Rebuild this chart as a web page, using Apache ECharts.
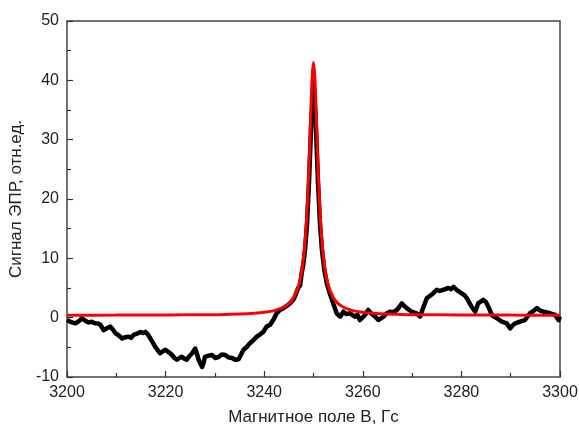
<!DOCTYPE html>
<html>
<head>
<meta charset="utf-8">
<script src="https://cdn.jsdelivr.net/npm/echarts@6/dist/echarts.min.js"></script>
<style>html,body{margin:0;padding:0;background:#fff}#c{width:579px;height:427px}</style>
</head>
<body>
<div id="c"></div>
<script>
var xTicks = [3200, 3220, 3240, 3260, 3280, 3300];
var yTicks = [-10, 0, 10, 20, 30, 40, 50];

var blackField = [3200.0,3200.7,3201.7,3202.4,3203.0,3203.7,3204.4,3205.0,3205.7,3206.3,3206.8,3207.4,3208.1,3208.8,3209.3,3209.8,3210.5,3211.2,3211.9,3212.5,3213.0,3213.5,3214.2,3214.9,3215.4,3215.9,3216.4,3216.9,3217.4,3217.9,3218.4,3218.9,3219.4,3219.9,3220.6,3221.3,3221.8,3222.3,3222.8,3223.3,3223.8,3224.3,3224.8,3225.4,3226.0,3226.4,3226.7,3227.1,3227.4,3227.7,3228.0,3228.7,3229.4,3230.1,3230.8,3231.4,3232.1,3232.8,3233.5,3234.1,3234.8,3235.3,3235.8,3236.5,3237.1,3237.8,3238.5,3239.2,3239.8,3240.5,3241.2,3241.9,3242.5,3243.2,3243.9,3244.6,3245.2,3245.9,3246.2,3246.9,3247.3,3247.6,3247.9,3248.3,3248.7,3249.1,3249.5,3249.8,3250.0,3250.2,3250.5,3250.9,3251.3,3251.7,3252.2,3252.7,3253.3,3254.0,3254.7,3255.4,3256.05,3256.7,3257.4,3258.4,3258.9,3259.4,3260.45,3261.1,3261.6,3262.1,3262.6,3263.15,3264.2,3264.8,3265.5,3266.2,3266.9,3267.4,3267.9,3268.4,3268.9,3269.9,3270.9,3271.6,3272.3,3273.0,3274.0,3275.0,3275.6,3276.3,3277.35,3277.9,3278.4,3279.0,3280.05,3280.6,3281.1,3282.1,3282.8,3283.4,3284.45,3285.0,3285.5,3286.15,3287.2,3288.2,3289.2,3289.9,3290.4,3290.9,3291.9,3292.9,3293.9,3294.6,3295.3,3296.0,3296.6,3297.3,3298.0,3299.0,3299.7,3300.0];
var blackSignal = [-0.4,-0.7,-0.95,-0.6,-0.1,-0.5,-0.8,-0.7,-0.95,-1.0,-1.2,-2.1,-1.8,-1.5,-2.0,-2.6,-3.0,-3.5,-3.3,-3.2,-3.4,-2.9,-2.7,-2.4,-2.6,-2.4,-2.8,-3.5,-4.2,-4.9,-5.5,-6.0,-5.7,-5.4,-5.8,-6.3,-6.8,-7.1,-6.8,-6.6,-6.9,-7.1,-6.5,-6.0,-5.2,-6.2,-7.1,-7.8,-8.3,-7.6,-6.6,-6.4,-6.3,-6.8,-6.6,-6.2,-6.3,-6.7,-6.8,-7.1,-7.0,-6.2,-5.4,-4.9,-4.3,-3.8,-3.2,-2.8,-2.4,-1.5,-1.2,-0.3,0.7,1.3,1.6,2.0,2.4,3.0,3.5,5.0,5.5,7.5,8.8,11.5,16,23,32,37,39.5,37,32,23,16,11.5,8.0,5.8,4.1,2.4,0.74,0.17,1.0,0.6,0.74,0.17,0.5,-0.4,0.45,1.3,0.8,0.45,0.1,-0.4,0.17,0.7,1.0,0.9,1.3,1.8,2.4,2.0,1.6,1.0,0.74,0.17,1.8,3.3,3.9,4.7,4.5,4.7,5.0,4.8,5.2,4.7,4.1,3.8,3.3,1.8,1.0,2.4,3.0,2.6,1.8,0.45,-0.1,-0.67,-0.96,-1.8,-1.3,-0.96,-0.67,-0.4,0.74,1.1,1.6,1.2,1.0,0.9,0.74,0.45,-0.4,0.2];

var redField = [3200,3210,3220,3230,3235,3238,3240,3242,3243,3244,3245,3246,3247,3247.5,3248,3248.5,3249,3249.25,3249.5,3249.75,3250,3250.25,3250.5,3250.75,3251,3251.5,3252,3252.5,3253,3254,3255,3256,3257,3258,3260,3262,3265,3270,3280,3290,3300];
var redSignal = [0.42,0.43,0.46,0.5,0.63,0.76,0.91,1.19,1.43,1.79,2.37,3.4,5.45,7.3,10.3,15.3,23.7,29.5,35.7,40.9,43.0,40.9,35.7,29.5,23.7,15.3,10.3,7.3,5.45,3.4,2.37,1.79,1.43,1.19,0.91,0.76,0.63,0.5,0.46,0.43,0.42];

function pairs(xs, ys) { return xs.map(function (x, i) { return [x, ys[i]]; }); }

var font = 'Liberation Sans, Arial, sans-serif';
var chart = echarts.init(document.getElementById('c'), null, {renderer: 'canvas'});
chart.setOption({
  animation: false,
  backgroundColor: '#fff',
  grid: {left: 67, right: 19, top: 21, bottom: 50, containLabel: false, outerBoundsMode: 'none',
         show: true, borderColor: '#444', borderWidth: 1.5, backgroundColor: 'transparent'},
  xAxis: {
    type: 'value', min: xTicks[0], max: xTicks[xTicks.length - 1], interval: 20,
    axisLine: {show: false, onZero: false},
    axisTick: {show: true, inside: true, length: 6, lineStyle: {color: '#333', width: 1.2}},
    minorTick: {show: true, splitNumber: 2, length: 4, lineStyle: {color: '#333', width: 1.2}},
    splitLine: {show: false},
    axisLabel: {color: '#222', fontSize: 16, fontFamily: font, margin: 8, formatter: function (v) { return String(v); }},
    name: 'Магнитное поле В, Гс', nameLocation: 'middle', nameGap: 32,
    nameTextStyle: {color: '#222', fontSize: 17, fontFamily: font}
  },
  yAxis: {
    type: 'value', min: yTicks[0], max: yTicks[yTicks.length - 1], interval: 10,
    axisLine: {show: false, onZero: false},
    axisTick: {show: true, inside: true, length: 6, lineStyle: {color: '#333', width: 1.2}},
    minorTick: {show: true, splitNumber: 2, length: 4, lineStyle: {color: '#333', width: 1.2}},
    splitLine: {show: false},
    axisLabel: {color: '#222', fontSize: 16, fontFamily: font, margin: 8},
    name: 'Сигнал ЭПР, отн.ед.', nameLocation: 'middle', nameGap: 37,
    nameTextStyle: {color: '#222', fontSize: 17, fontFamily: font}
  },
  series: [{
    type: 'line', data: pairs(blackField, blackSignal), showSymbol: false, symbol: 'none',
    lineStyle: {color: '#000', width: 4.5, join: 'round'}, z: 2
  }, {
    type: 'line', data: pairs(redField, redSignal), showSymbol: false, symbol: 'none', smooth: 0.3,
    lineStyle: {color: '#ff0000', width: 3}, z: 3
  }]
});
</script>
</body>
</html>
